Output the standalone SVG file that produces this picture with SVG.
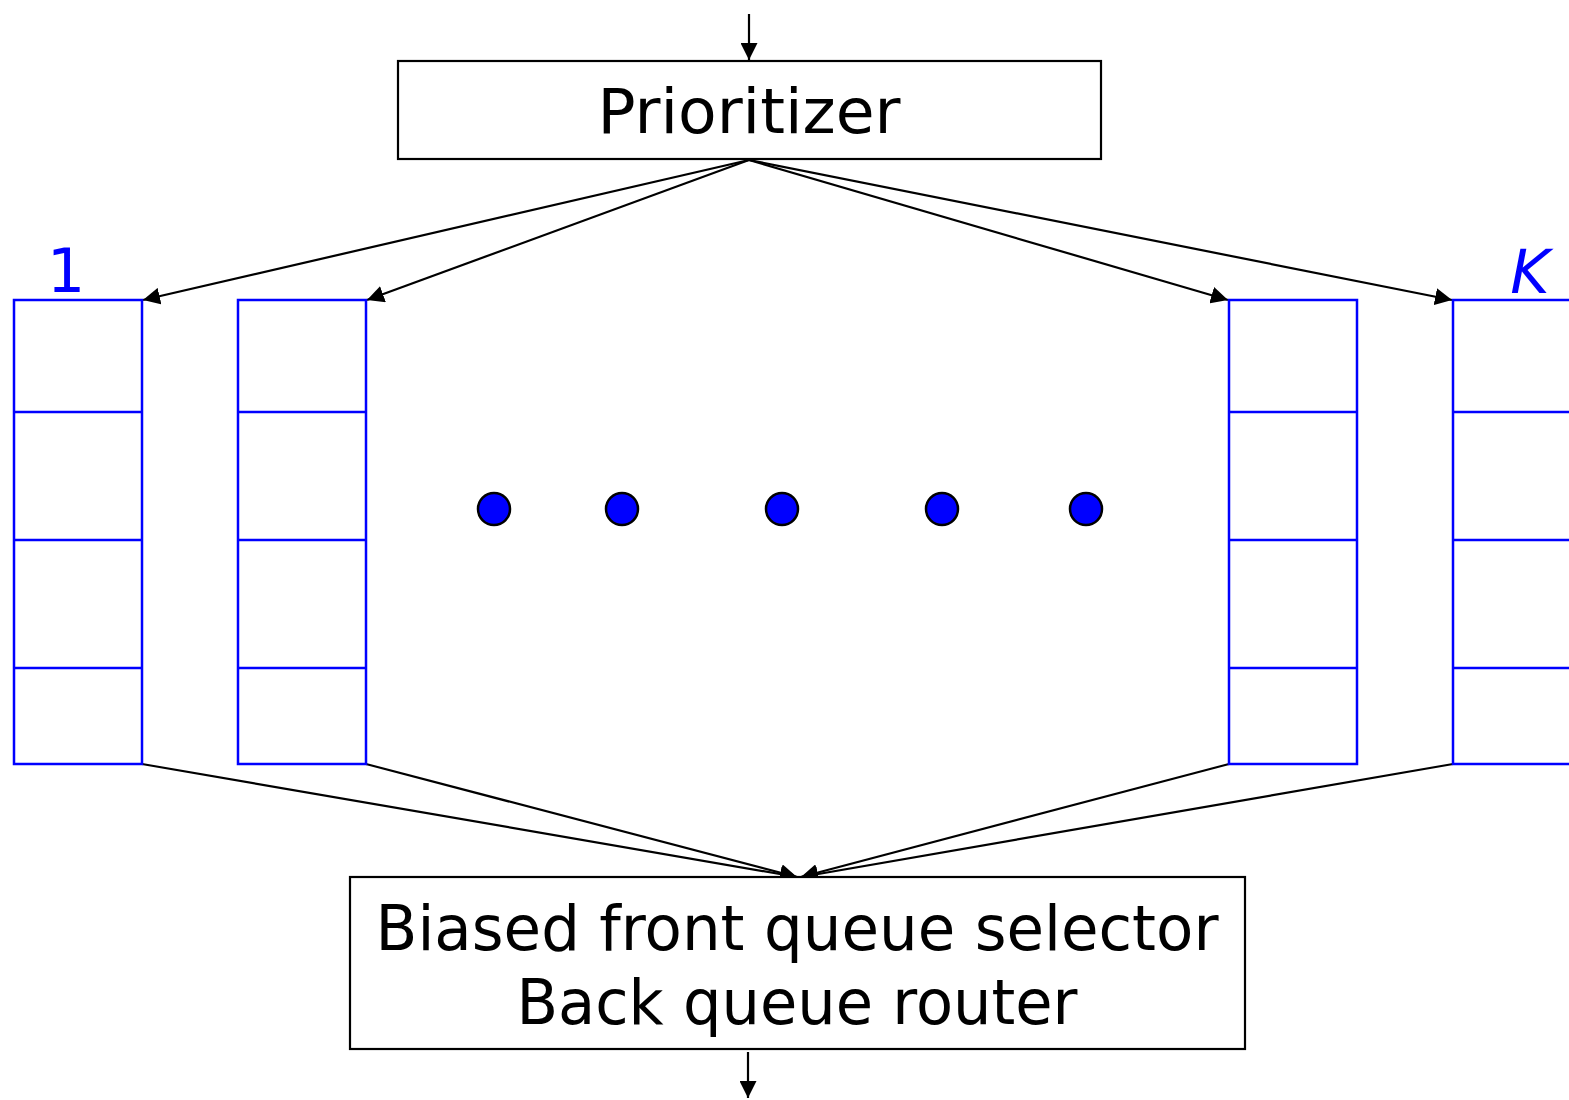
<svg xmlns="http://www.w3.org/2000/svg" width="1569" height="1100" viewBox="0 0 1569 1100">
<style>
.box{fill:#fff;stroke:#000;stroke-width:2.2}
.q{fill:none;stroke:#0000ff;stroke-width:2.5}
.t{font-family:"DejaVu Sans",sans-serif;font-size:63px;fill:#000;text-anchor:middle}
.lbl{font-family:"DejaVu Sans",sans-serif;font-size:60px;fill:#0000ff;text-anchor:middle}
.c{stroke:#000;stroke-width:2.2;fill:none}
.dot{fill:#0000ff;stroke:#000;stroke-width:2.5}
</style>
<defs>
<marker id="ah" viewBox="0 0 10 10" refX="10" refY="5" markerWidth="17" markerHeight="17" markerUnits="userSpaceOnUse" orient="auto">
<path d="M0,0 L10,5 L0,10 z" fill="#000"/>
</marker>
</defs>
<rect width="1569" height="1100" fill="#fff"/>
<g id="connectors">
<line class="c" x1="749" y1="14" x2="749" y2="60" marker-end="url(#ah)"/>
<line class="c" x1="749" y1="160" x2="143" y2="300" marker-end="url(#ah)"/>
<line class="c" x1="749" y1="160" x2="367" y2="300" marker-end="url(#ah)"/>
<line class="c" x1="749" y1="160" x2="1228" y2="300" marker-end="url(#ah)"/>
<line class="c" x1="749" y1="160" x2="1452" y2="300" marker-end="url(#ah)"/>
<line class="c" x1="142" y1="764" x2="797" y2="877" marker-end="url(#ah)"/>
<line class="c" x1="366" y1="764" x2="797" y2="877" marker-end="url(#ah)"/>
<line class="c" x1="1229" y1="764" x2="801" y2="877" marker-end="url(#ah)"/>
<line class="c" x1="1453" y1="764" x2="801" y2="877" marker-end="url(#ah)"/>
<line class="c" x1="748" y1="1052" x2="748" y2="1098" marker-end="url(#ah)"/>
</g>
<g id="prioritizer">
<rect class="box" x="398" y="61" width="703" height="98"/>
<text class="t" x="749" y="133" textLength="303" lengthAdjust="spacingAndGlyphs">Prioritizer</text>
</g>
<g id="queue1">
<rect class="q" x="14" y="300" width="128" height="464"/>
<line class="q" x1="14" y1="412" x2="142" y2="412"/>
<line class="q" x1="14" y1="540" x2="142" y2="540"/>
<line class="q" x1="14" y1="668" x2="142" y2="668"/>
<text class="lbl" x="66" y="292">1</text>
</g>
<g id="queue2">
<rect class="q" x="238" y="300" width="128" height="464"/>
<line class="q" x1="238" y1="412" x2="366" y2="412"/>
<line class="q" x1="238" y1="540" x2="366" y2="540"/>
<line class="q" x1="238" y1="668" x2="366" y2="668"/>
</g>
<g id="queue3">
<rect class="q" x="1229" y="300" width="128" height="464"/>
<line class="q" x1="1229" y1="412" x2="1357" y2="412"/>
<line class="q" x1="1229" y1="540" x2="1357" y2="540"/>
<line class="q" x1="1229" y1="668" x2="1357" y2="668"/>
</g>
<g id="queueK">
<rect class="q" x="1453" y="300" width="128" height="464"/>
<line class="q" x1="1453" y1="412" x2="1581" y2="412"/>
<line class="q" x1="1453" y1="540" x2="1581" y2="540"/>
<line class="q" x1="1453" y1="668" x2="1581" y2="668"/>
<text class="lbl" x="1530" y="293" font-style="italic">K</text>
</g>
<g id="dots">
<circle class="dot" cx="494" cy="509" r="16"/>
<circle class="dot" cx="622" cy="509" r="16"/>
<circle class="dot" cx="782" cy="509" r="16"/>
<circle class="dot" cx="942" cy="509" r="16"/>
<circle class="dot" cx="1086" cy="509" r="16"/>
</g>
<g id="selector">
<rect class="box" x="350" y="877" width="895" height="172"/>
<text class="t" x="797" y="950" textLength="843" lengthAdjust="spacingAndGlyphs">Biased front queue selector</text>
<text class="t" x="797" y="1024" textLength="561" lengthAdjust="spacingAndGlyphs">Back queue router</text>
</g>
</svg>
